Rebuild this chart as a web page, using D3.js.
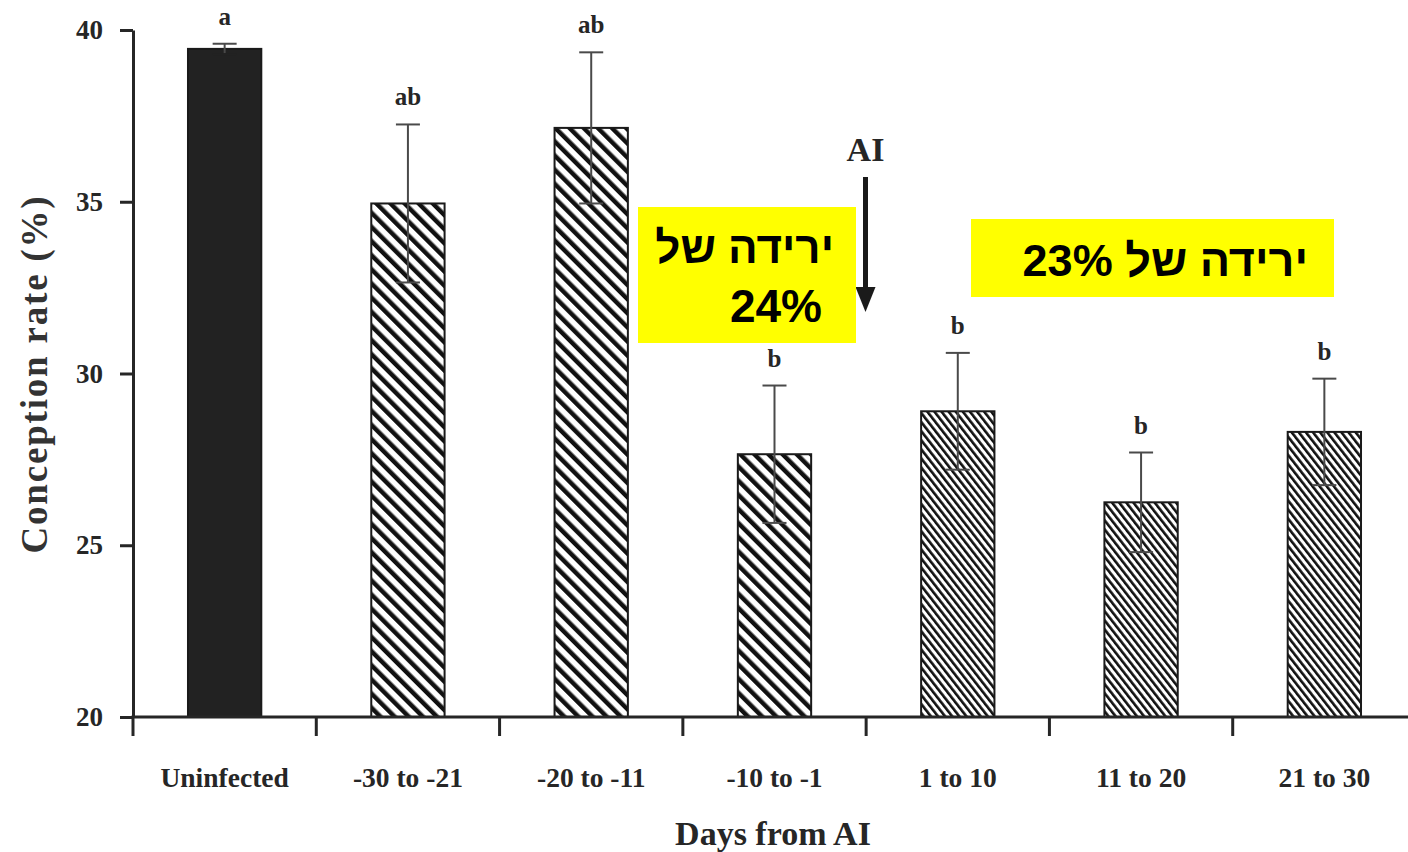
<!DOCTYPE html>
<html><head><meta charset="utf-8">
<script src="https://cdn.jsdelivr.net/npm/d3@7"></script>
<style>body{margin:0;background:#fff}svg{display:block}</style>
</head><body><svg id="c" width="1408" height="852"></svg>
<script>
const categories = ["Uninfected","-30 to -21","-20 to -11","-10 to -1","1 to 10","11 to 20","21 to 30"];
const values = [39.45, 34.95, 37.15, 27.65, 28.9, 26.25, 28.3];
const errors = [0.15, 2.3, 2.2, 2.0, 1.7, 1.45, 1.55];
const letters = ["a","ab","ab","b","b","b","b"];
const fills = ["solid","wide","wide","wide","fine","fine","fine"];
const yTicks = [20,25,30,35,40];
const annotations = [
  {lines:["ירידה של","24%"]},
  {lines:["\u202Bירידה של 23%\u202C"]}
];

const svg = d3.select("#c");
const serif = "'Liberation Serif','Times New Roman',serif";
const ink = "#262626";

const x = d3.scaleBand().domain(categories).range([133,1416]).paddingInner(0.6).paddingOuter(0.3);
const y = d3.scaleLinear().domain([20,40]).range([717,30]);

const defs = svg.append("defs");
function hatch(id, period, w, angle){
  const p = defs.append("pattern").attr("id",id).attr("patternUnits","userSpaceOnUse")
    .attr("width",period).attr("height",period).attr("patternTransform",`rotate(${angle})`);
  p.append("rect").attr("width",period).attr("height",period).attr("fill","#fff");
  p.append("rect").attr("x",0).attr("y",0).attr("width",w).attr("height",period).attr("fill","#111");
}
hatch("wide", 10, 4.5, -45);
hatch("fine", 5.6, 2.6, -38);

const g = svg.append("g");
g.selectAll("rect.bar").data(categories).join("rect").attr("class","bar")
  .attr("x",d=>x(d)).attr("width",x.bandwidth())
  .attr("y",(d,i)=>y(values[i])).attr("height",(d,i)=>y(20)-y(values[i]))
  .attr("fill",(d,i)=>fills[i]==="solid"?"#222":`url(#${fills[i]})`)
  .attr("stroke","#1a1a1a").attr("stroke-width",2);

const eb = g.selectAll("g.eb").data(categories).join("g").attr("class","eb");
const cx = d=>x(d)+x.bandwidth()/2;
eb.append("line").attr("x1",cx).attr("x2",cx)
  .attr("y1",(d,i)=>y(values[i]+errors[i])).attr("y2",(d,i)=>y(values[i]-errors[i]))
  .attr("stroke","#4a4a4a").attr("stroke-width",2);
eb.append("line").attr("x1",d=>cx(d)-12).attr("x2",d=>cx(d)+12)
  .attr("y1",(d,i)=>y(values[i]+errors[i])).attr("y2",(d,i)=>y(values[i]+errors[i]))
  .attr("stroke","#4a4a4a").attr("stroke-width",2);
eb.append("line").attr("x1",d=>cx(d)-12).attr("x2",d=>cx(d)+12)
  .attr("y1",(d,i)=>y(values[i]-errors[i])).attr("y2",(d,i)=>y(values[i]-errors[i]))
  .attr("stroke",(d,i)=>fills[i]==="solid"?"#222":"#4a4a4a").attr("stroke-width",2);
eb.append("text").attr("x",cx).attr("y",(d,i)=>y(values[i]+errors[i])-19)
  .attr("text-anchor","middle").attr("font-family",serif).attr("font-weight","bold")
  .attr("font-size",25).attr("fill",ink).text((d,i)=>letters[i]);

// y axis
const yAxis = svg.append("g").attr("transform","translate(133,0)")
  .call(d3.axisLeft(y).tickValues(yTicks).tickSize(13).tickPadding(17).tickSizeOuter(0));
yAxis.select(".domain").attr("stroke",ink).attr("stroke-width",3);
yAxis.selectAll(".tick line").attr("stroke",ink).attr("stroke-width",3);
yAxis.selectAll(".tick text").attr("font-family",serif).attr("font-weight","bold").attr("font-size",27).attr("fill",ink);

// x axis (ticks at band boundaries)
const step = x.step();
const bounds = categories.map(d=>x(d)-step*x.paddingInner()/2).concat([x(categories[6])+x.bandwidth()+step*x.paddingInner()/2]);
svg.append("line").attr("x1",131.5).attr("x2",1408).attr("y1",717).attr("y2",717).attr("stroke",ink).attr("stroke-width",3);
svg.selectAll("line.xt").data(bounds).join("line").attr("class","xt")
  .attr("x1",d=>d).attr("x2",d=>d).attr("y1",717).attr("y2",736).attr("stroke",ink).attr("stroke-width",3);
svg.selectAll("text.xl").data(categories).join("text").attr("class","xl")
  .attr("x",cx).attr("y",787).attr("text-anchor","middle")
  .attr("font-family",serif).attr("font-weight","bold").attr("font-size",27.5).attr("fill",ink).text(d=>d);

svg.append("text").attr("x",773).attr("y",845).attr("text-anchor","middle")
  .attr("font-family",serif).attr("font-weight","bold").attr("font-size",34).attr("fill",ink).text("Days from AI");
svg.append("text").attr("transform","translate(47,374) rotate(-90)").attr("text-anchor","middle")
  .attr("font-family",serif).attr("font-weight","bold").attr("font-size",37).attr("letter-spacing",1.8)
  .attr("fill","#333").text("Conception rate (%)");

// AI arrow
const ax = cx(categories[3])+91;
svg.append("text").attr("x",ax).attr("y",161).attr("text-anchor","middle")
  .attr("font-family",serif).attr("font-weight","bold").attr("font-size",34).attr("fill",ink).text("AI");
svg.append("line").attr("x1",ax).attr("x2",ax).attr("y1",177).attr("y2",292).attr("stroke","#1a1a1a").attr("stroke-width",5);
svg.append("path").attr("d",`M${ax-10},287 L${ax+10},287 L${ax},312 Z`).attr("fill","#1a1a1a");

// yellow annotation boxes
const sans = "'Liberation Sans',Arial,sans-serif";
svg.append("rect").attr("x",638).attr("y",207).attr("width",218).attr("height",136).attr("fill","#ffff00");
svg.append("text").attr("x",834).attr("y",263).attr("text-anchor","end").attr("font-family",sans).attr("font-weight","bold")
  .attr("font-size",44).attr("fill","#000").text(annotations[0].lines[0]);
svg.append("text").attr("x",822).attr("y",322).attr("text-anchor","end").attr("font-family",sans).attr("font-weight","bold")
  .attr("font-size",46).attr("fill","#000").text(annotations[0].lines[1]);
svg.append("rect").attr("x",971).attr("y",219).attr("width",363).attr("height",78).attr("fill","#ffff00");
svg.append("text").attr("x",1308).attr("y",276).attr("text-anchor","end").attr("font-family",sans).attr("font-weight","bold")
  .attr("font-size",45).attr("fill","#000").text(annotations[1].lines[0]);
</script></body></html>
